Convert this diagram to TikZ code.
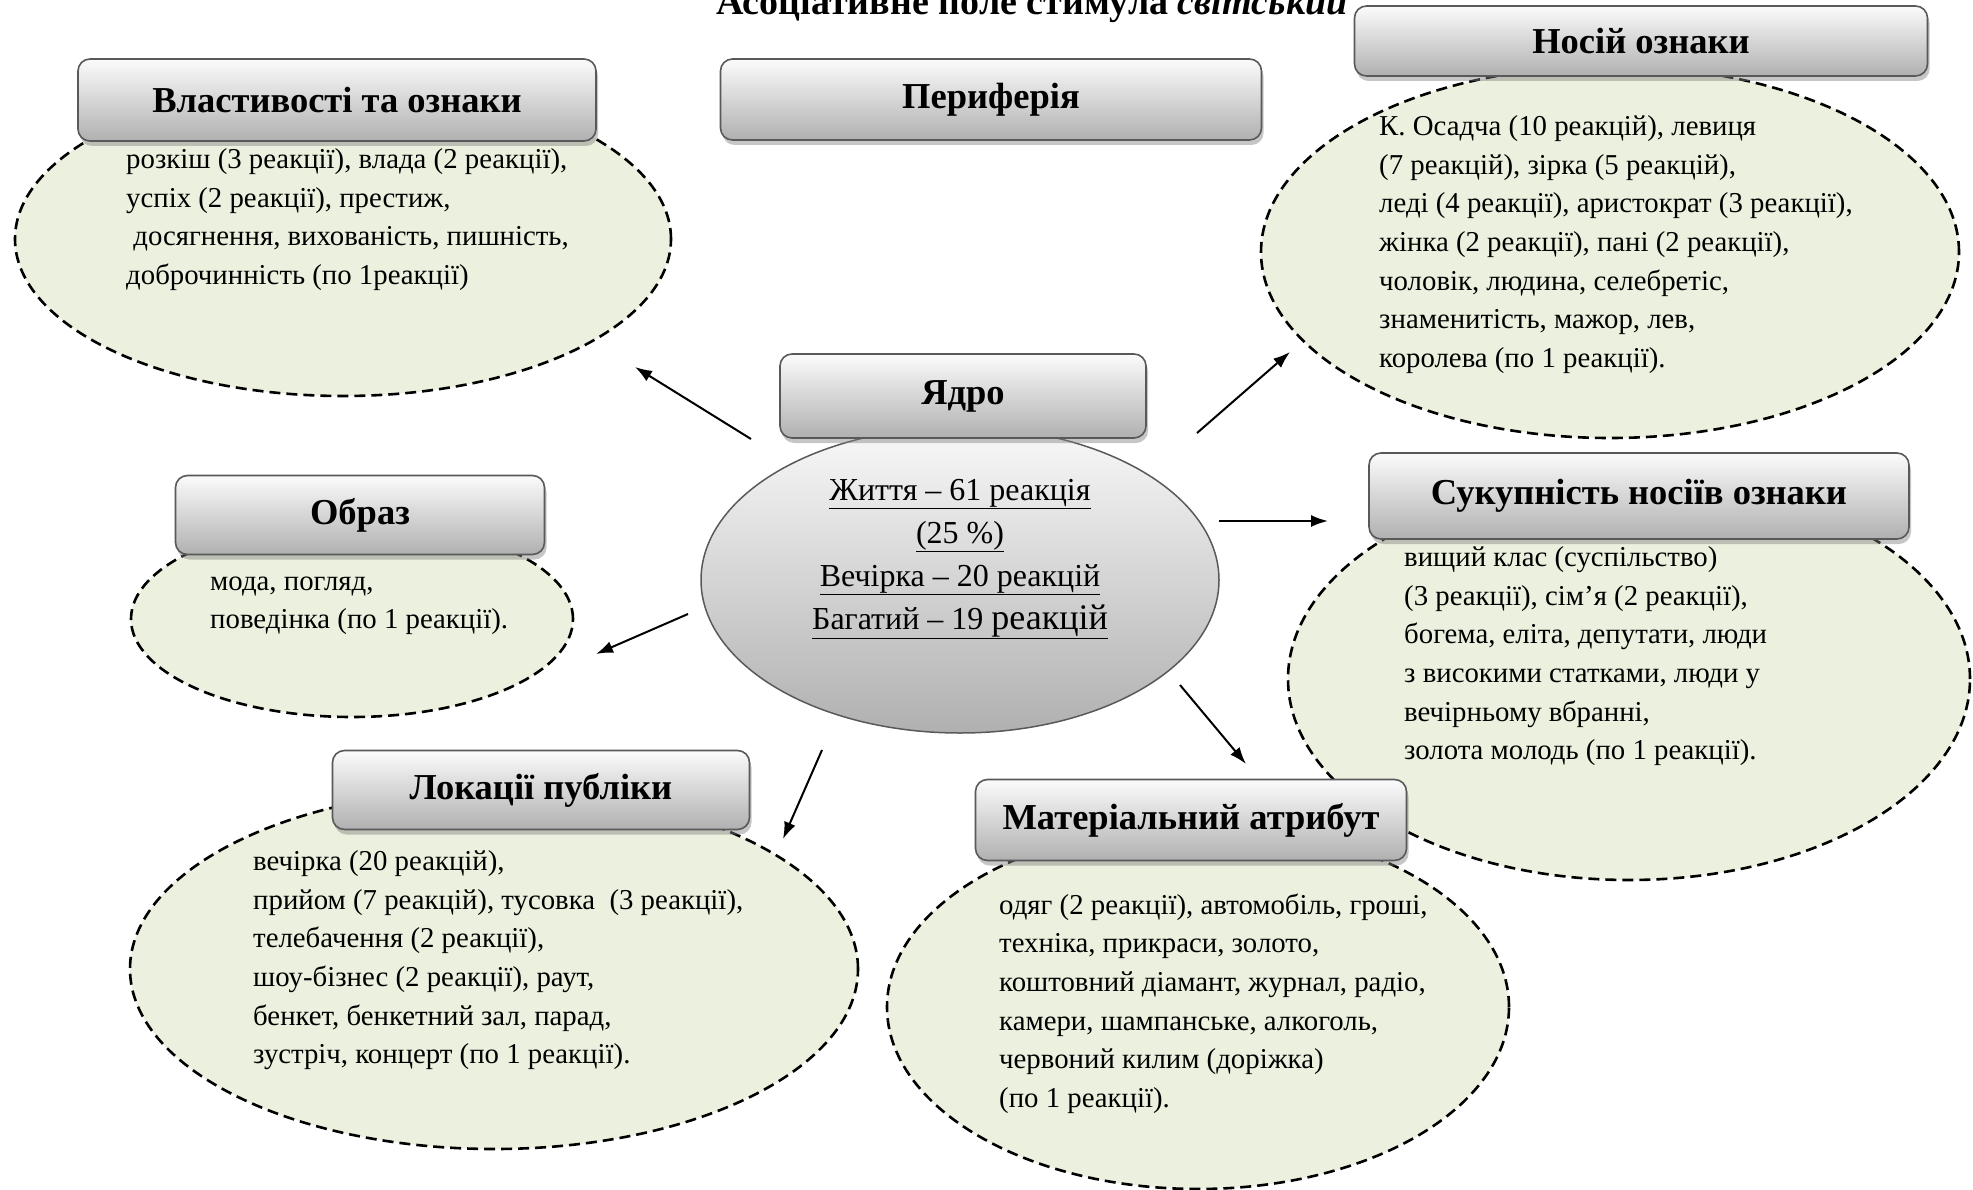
\documentclass[tikz,border=0pt]{standalone}
\usepackage{fontspec}
\setmainfont{Liberation Serif}
\usetikzlibrary{shapes.geometric,shadows,arrows.meta}
\definecolor{leaf}{RGB}{235,241,222}
\begin{document}
\begin{tikzpicture}[x=1pt,y=-1pt,
  leafell/.style={ellipse, draw=black, fill=leaf, line width=2.6pt, dash pattern=on 11pt off 6pt, inner sep=0pt},
  hbox/.style={rounded corners=12pt, draw=gray!70!black, line width=1.6pt, top color=gray!3, bottom color=gray!62,
     drop shadow={shadow xshift=2pt, shadow yshift=-5pt, opacity=0.45, fill=gray}, inner sep=0pt,
     font=\fontsize{36.5}{40}\selectfont\bfseries},
  body/.style={align=left, anchor=north west, inner sep=0pt, font=\fontsize{28.8}{38.6}\selectfont},
  arr/.style={line width=2pt, -{Latex[length=17pt,width=12pt]}}
]
\useasboundingbox (0,0) rectangle (1973,1190);

% title (cut at top)
\node[anchor=base, inner sep=0pt, font=\fontsize{38}{40}\selectfont\bfseries] (title) at (1032,15) {Асоціативне поле стимула \textit{світський}};

% leaf ellipses
\node[leafell, minimum width=656pt, minimum height=314pt] (e1) at (343,239) {};
\node[leafell, minimum width=698pt, minimum height=372pt] (e2) at (1610,252) {};
\node[leafell, minimum width=442pt, minimum height=196pt] (e3) at (352,619) {};
\node[leafell, minimum width=682pt, minimum height=402pt] (e4) at (1629,679) {};
\node[leafell, minimum width=728pt, minimum height=360pt] (e5) at (494,969) {};
\node[leafell, minimum width=622pt, minimum height=364pt] (e6) at (1198,1007) {};

% core ellipse
\node[ellipse, draw=gray!70!black, line width=1.5pt, top color=gray!5, bottom color=gray!62, minimum width=518pt, minimum height=306pt, inner sep=0pt] (core) at (960,580) {};

% heading boxes
\node[hbox, minimum width=518pt, minimum height=82pt] (h1) at (337,100) {Властивості та ознаки};
\node[hbox, minimum width=541pt, minimum height=81pt] (h0) at (991,99.5) {Периферія};
\node[hbox, minimum width=573pt, minimum height=70pt] (h2) at (1641,41) {Носій ознаки};
\node[hbox, minimum width=366pt, minimum height=84pt] (hc) at (963,396) {Ядро};
\node[hbox, minimum width=369pt, minimum height=79pt] (h3) at (360,515) {Образ};
\node[hbox, minimum width=540pt, minimum height=86pt] (h4) at (1639,496) {Сукупність носіїв ознаки};
\node[hbox, minimum width=417pt, minimum height=79pt] (h5) at (541,790) {Локації публіки};
\node[hbox, minimum width=431pt, minimum height=81pt] (h6) at (1191,820) {Матеріальний атрибут};

% texts
\node[body] (t1) at (126,148.5) {розкіш (3 реакції), влада (2 реакції),\\успіх (2 реакції), престиж,\\\hspace*{0.25em}досягнення, вихованість, пишність,\\доброчинність (по 1реакції)};
\node[body] (t2) at (1379,115.5) {К. Осадча (10 реакцій), левиця\\(7 реакцій), зірка (5 реакцій),\\леді (4 реакції), аристократ (3 реакції),\\жінка (2 реакції), пані (2 реакції),\\чоловік, людина, селебретіс,\\знаменитість, мажор, лев,\\королева (по 1 реакції).};
\node[body] (t3) at (210,576.5) {мода, погляд,\\поведінка (по 1 реакції).};
\node[body] (t4) at (1404,546.5) {вищий клас (суспільство)\\(3 реакції), сім’я (2 реакції),\\богема, еліта, депутати, люди\\з високими статками, люди у\\вечірньому вбранні,\\золота молодь (по 1 реакції).};
\node[body] (t5) at (253,850.5) {вечірка (20 реакцій),\\прийом (7 реакцій), тусовка\ \ (3 реакції),\\телебачення (2 реакції),\\шоу-бізнес (2 реакції), раут,\\бенкет, бенкетний зал, парад,\\зустріч, концерт (по 1 реакції).};
\node[body] (t6) at (999,893.5) {одяг (2 реакції), автомобіль, гроші,\\техніка, прикраси, золото,\\коштовний діамант, журнал, радіо,\\камери, шампанське, алкоголь,\\червоний килим (доріжка)\\(по 1 реакції).};

\node[align=center, anchor=north, inner sep=0pt, font=\fontsize{32}{43}\selectfont] (tc) at (960,479)
 {\underline{Життя – 61 реакція}\\\underline{(25 \%)}\\\underline{Вечірка – 20 реакцій}\\\underline{Багатий – 19 {\fontsize{36}{43}\selectfont реакцій}}};

% arrows
\coordinate (a1s) at (751,439); \coordinate (a1e) at (635,367);
\coordinate (a2s) at (1197,433); \coordinate (a2e) at (1290,352);
\coordinate (a3s) at (1219,521); \coordinate (a3e) at (1328,521);
\coordinate (a4s) at (688,614); \coordinate (a4e) at (596,654);
\coordinate (a5s) at (822,750); \coordinate (a5e) at (783,839);
\coordinate (a6s) at (1180,685); \coordinate (a6e) at (1246,764);
\draw[arr] (a1s) -- (a1e);
\draw[arr] (a2s) -- (a2e);
\draw[arr] (a3s) -- (a3e);
\draw[arr] (a4s) -- (a4e);
\draw[arr] (a5s) -- (a5e);
\draw[arr] (a6s) -- (a6e);
\end{tikzpicture}
\end{document}
